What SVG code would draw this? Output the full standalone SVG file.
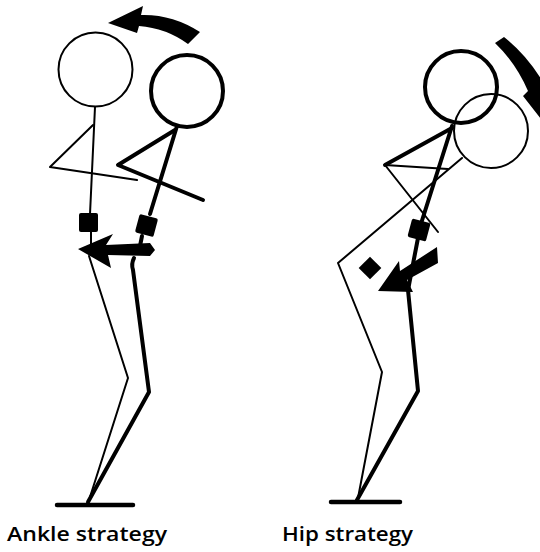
<svg xmlns="http://www.w3.org/2000/svg" width="540" height="552" viewBox="0 0 540 552">
  <style>
    .thin { fill: none; stroke: #000; stroke-width: 2; stroke-linecap: round; stroke-linejoin: round; }
    .thick { fill: none; stroke: #000; stroke-width: 4; stroke-linecap: round; stroke-linejoin: round; }
    .solid { fill: #000; stroke: none; }
    .foot { stroke: #000; stroke-width: 4.5; stroke-linecap: round; }
    .label { font-family: "Open Sans", "DejaVu Sans", sans-serif; font-size: 19px; font-weight: 600; fill: #000; }
  </style>
  <rect width="540" height="552" fill="#fff"/>

  <!-- Ankle strategy: upright figure -->
  <g id="ankle-upright">
    <circle class="thin" cx="95.5" cy="69.5" r="37"/>
    <polyline class="thin" points="95,107 90,214"/>
    <polyline class="thin" points="93,125 50,167 137,180"/>
    <rect class="solid" x="79" y="213" width="19" height="19" rx="2"/>
    <polyline class="thin" points="91,232 91,244"/>
    <polyline class="thin" points="89,256 128,378 90,497"/>
  </g>

  <!-- Ankle strategy: figure tilted about the ankle -->
  <g id="ankle-tilted">
    <circle class="thick" cx="187" cy="91" r="36" stroke-width="4.5"/>
    <polyline class="thick" points="177,126 150,214"/>
    <polyline class="thick" points="175,130 118,165 203,200"/>
    <rect class="solid" x="137" y="216" width="19" height="19" rx="2" transform="rotate(15 146.5 225.5)"/>
    <polyline class="thick" points="142,236 140,246"/>
    <path class="thick" stroke-width="4.5" d="M134,258 Q131,264 133,270 L149,392 L88,502"/>
    <line class="foot" x1="57" y1="505" x2="133" y2="505"/>
  </g>

  <!-- Hip strategy: upright figure bent at the hip -->
  <g id="hip-thin">
    <circle class="thin" cx="491" cy="131" r="37"/>
    <polyline class="thin" points="462,158 338,263 382,372 358,498"/>
    <polyline class="thin" points="448,169 385,165 438,232"/>
    <rect class="solid" x="362" y="260" width="16" height="16" transform="rotate(45 370 268)"/>
  </g>

  <!-- Hip strategy: figure flexed at the hip -->
  <g id="hip-thick">
    <circle class="thick" cx="461" cy="87" r="36" stroke-width="4.5"/>
    <polyline class="thick" points="452,126 419,230"/>
    <polyline class="thick" points="452,128 385,165"/>
    <rect class="solid" x="409.5" y="220.5" width="19" height="19" rx="2" transform="rotate(15 419 230)"/>
    <path class="thick" stroke-width="4.5" d="M418,238 L408,290 L418,391 L357,500"/>
    <line class="foot" x1="331" y1="502" x2="400" y2="502"/>
  </g>

  <!-- Arrows showing body sway and hip thrust -->
  <g id="arrows">
    <path class="solid" d="M108,23 L143,6 L141,15 Q172,14 200,32 L188,44 Q166,28 139,26 L137,33 Z"/>
    <path class="solid" d="M78,249 L113,234 L106,245 L150,243 L155,250 L150,256 L108,255 L111,268 Z"/>
    <path class="solid" d="M495,43 L504,37 Q528,56 544,84 L548,128 L523,96 L528,91 Q516,63 495,43 Z"/>
    <path class="solid" d="M378,291 L399,261 L400,271 L437,247 L438,263 L407,280 L413,292 Z"/>
  </g>

  <text class="label" x="7" y="541" textLength="160" lengthAdjust="spacingAndGlyphs">Ankle strategy</text>
  <text class="label" x="282" y="541" textLength="131" lengthAdjust="spacingAndGlyphs">Hip strategy</text>
</svg>
